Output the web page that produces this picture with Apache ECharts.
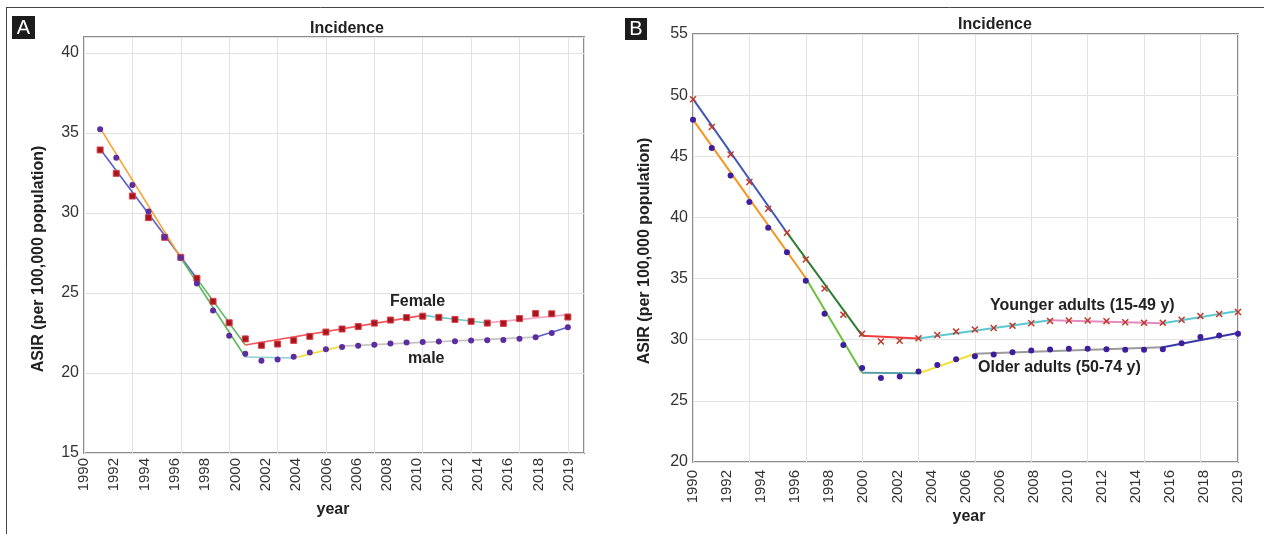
<!DOCTYPE html>
<html><head><meta charset="utf-8">
<script src="https://cdn.jsdelivr.net/npm/echarts@6/dist/echarts.min.js"></script>
<style>html,body{margin:0;padding:0;background:#fff}#c{width:1264px;height:534px}</style>
</head><body><div id="c"></div>
<script>
// ---------- data ----------
const years = [1990,1991,1992,1993,1994,1995,1996,1997,1998,1999,2000,2001,2002,2003,2004,2005,2006,2007,2008,2009,2010,2011,2012,2013,2014,2015,2016,2017,2018,2019];
const tickLabelsA = ['1990','1992','1994','1996','1998','2000','2002','2004','2006','2006','2008','2010','2012','2014','2016','2018','2019'];
const tickLabelsB = ['1990','1992','1994','1996','1998','2000','2002','2004','2006','2006','2008','2010','2012','2014','2016','2018','2019'];

// Panel A: observed ASIR
const femaleA = [33.94,32.48,31.06,29.71,28.48,27.23,25.92,24.48,23.14,22.13,21.73,21.81,22.04,22.29,22.56,22.75,22.90,23.12,23.31,23.46,23.55,23.48,23.35,23.23,23.12,23.10,23.40,23.72,23.70,23.50];
const maleA   = [35.23,33.46,31.75,30.10,28.50,27.20,25.60,23.90,22.33,21.20,20.77,20.85,21.02,21.28,21.48,21.63,21.71,21.77,21.84,21.90,21.93,21.97,21.99,22.03,22.05,22.07,22.14,22.24,22.50,22.86];
// Panel A: joinpoint fits
const femaleFitYearsA  = [1990,1996,1999,2010,2014,2019];
const femaleFitValuesA = [34.00,25.90,21.75,23.60,23.13,23.65];
const maleFitYearsA    = [1990,1995,1999,2002,2005,2017,2019];
const maleFitValuesA   = [35.30,27.20,21.00,20.94,21.68,22.24,22.86];

// Panel B: observed ASIR
const youngerB = [49.67,47.40,45.14,42.90,40.71,38.75,36.56,34.19,32.05,30.49,29.86,29.92,30.11,30.38,30.68,30.84,30.96,31.15,31.35,31.54,31.57,31.57,31.52,31.43,31.38,31.38,31.63,31.93,32.10,32.27];
const olderB   = [47.98,45.68,43.42,41.26,39.16,37.16,34.83,32.13,29.56,27.68,26.86,26.99,27.40,27.93,28.40,28.65,28.79,28.97,29.12,29.20,29.26,29.26,29.23,29.18,29.18,29.23,29.72,30.22,30.34,30.49];
// Panel B: joinpoint fits
const youngerFitYearsB  = [1990,1995,1999,2002,2009,2015,2019];
const youngerFitValuesB = [49.70,38.75,30.33,30.10,31.60,31.35,32.35];
const olderFitYearsB    = [1990,1996,1999,2002,2005,2015,2019];
const olderFitValuesB   = [48.00,35.05,27.30,27.25,28.85,29.38,30.55];

// ---------- styles ----------
const femaleSegColors  = ['#5b61c9','#5cb85c','#f2545b','#66cccc','#f4a6c8'];
const maleSegColors    = ['#f9a12e','#5cb85c','#8ecfd4','#f2de3a','#c4c4c4','#5b61c9'];
const youngerSegColors = ['#4156b8','#2e7d32','#f03c3c','#5bc8d0','#e58ac0','#5bc8d0'];
const olderSegColors   = ['#f7941d','#6dbf3f','#5aa0a8','#f2e033','#9a9a9a','#3838a8'];
const FONT = 'Liberation Sans, Arial, sans-serif';
const XMARK = 'path://M0,1.5L1.5,0L5,3.5L8.5,0L10,1.5L6.5,5L10,8.5L8.5,10L5,6.5L1.5,10L0,8.5L3.5,5Z';

function segSeries(fitYears, fitValues, colors, xi, yi, width) {
  const out = [];
  for (let i = 0; i < fitYears.length - 1; i++) {
    out.push({
      type: 'line', xAxisIndex: xi, yAxisIndex: yi, symbol: 'none', silent: true, z: 3,
      lineStyle: {color: colors[i], width: width},
      data: [[fitYears[i], fitValues[i]], [fitYears[i+1], fitValues[i+1]]]
    });
  }
  return out;
}
function pts(vals, xi, yi, symbol, size, color, border) {
  return {
    type: 'scatter', xAxisIndex: xi, yAxisIndex: yi, symbol: symbol, symbolSize: size, z: 5, silent: true,
    itemStyle: {color: color, borderColor: border || color, borderWidth: border ? 1 : 0, opacity: 1},
    data: years.map((y, i) => [y, vals[i]])
  };
}

const hiddenAxis = {show: false};
function dataX(grid, min, max) {
  return {type: 'value', gridIndex: grid, min: min, max: max, show: false};
}
function gridX(grid, max) {
  return {type: 'value', gridIndex: grid, min: 0, max: max, interval: 3, position: 'bottom',
    axisLine: {show: false}, axisTick: {show: false}, axisLabel: {show: false},
    splitLine: {show: true, lineStyle: {color: '#e2e2e2', width: 1}}};
}
function labelX(grid, max, labels, margin) {
  return {type: 'value', gridIndex: grid, min: 0, max: max, interval: 1, position: 'bottom',
    axisLine: {show: false}, axisTick: {show: false}, splitLine: {show: false},
    axisLabel: {show: true, rotate: 90, margin: margin, fontSize: 15, fontFamily: FONT, color: '#333',
      formatter: v => (Number.isInteger(v) && labels[v] !== undefined) ? labels[v] : ''}};
}
function yAx(grid, min, max) {
  return {type: 'value', gridIndex: grid, min: min, max: max, interval: 5,
    axisLine: {show: false}, axisTick: {show: false},
    splitLine: {show: true, lineStyle: {color: '#e2e2e2', width: 1}},
    axisLabel: {fontSize: 16, fontFamily: FONT, color: '#333', margin: 5, showMaxLabel: (max % 5 === 0)}};
}

function txt(x, y, s, size, opts) {
  return Object.assign({type: 'text', x: x, y: y, silent: true, z: 10,
    style: Object.assign({text: s, fontFamily: FONT, fontSize: size, fontWeight: 'bold', fill: '#222',
      textAlign: 'center', textVerticalAlign: 'middle'}, (opts && opts.style) || {})},
    (opts && opts.el) || {});
}

const option = {
  backgroundColor: '#fff',
  animation: false,
  grid: [
    {left: 84, top: 37, right: 680, bottom: 81, show: true, borderColor: '#8c8c8c', borderWidth: 2, backgroundColor: 'transparent'},
    {left: 693, top: 34, right: 26, bottom: 72, show: true, borderColor: '#8c8c8c', borderWidth: 2, backgroundColor: 'transparent'}
  ],
  xAxis: [
    dataX(0, 1989, 2020),      // 0 data A
    gridX(0, 31),              // 1 grid lines A
    labelX(0, 16.5, tickLabelsA, 5), // 2 labels A
    dataX(1, 1990, 2019),      // 3 data B
    gridX(1, 29),              // 4 grid lines B
    labelX(1, 16, tickLabelsB, 8)    // 5 labels B
  ],
  yAxis: [yAx(0, 15, 41), yAx(1, 20, 55)],
  series: [].concat(
    segSeries(femaleFitYearsA, femaleFitValuesA, femaleSegColors, 0, 0, 1.6),
    segSeries(maleFitYearsA, maleFitValuesA, maleSegColors, 0, 0, 1.6),
    [pts(femaleA, 0, 0, 'rect', 6, '#a8161c', '#d9434b'), pts(maleA, 0, 0, 'circle', 6, '#5b2d9e')],
    segSeries(youngerFitYearsB, youngerFitValuesB, youngerSegColors, 3, 1, 2),
    segSeries(olderFitYearsB, olderFitValuesB, olderSegColors, 3, 1, 2),
    [pts(youngerB, 3, 1, XMARK, 7, '#c0392b'), pts(olderB, 3, 1, 'circle', 6, '#3d1f9e')]
  ),
  graphic: [
    // frame
    {type: 'line', silent: true, shape: {x1: 6, y1: 7.5, x2: 1264, y2: 7.5}, style: {stroke: '#444', lineWidth: 1}},
    {type: 'line', silent: true, shape: {x1: 6.5, y1: 7, x2: 6.5, y2: 534}, style: {stroke: '#444', lineWidth: 1}},
    // panel letters
    {type: 'rect', silent: true, shape: {x: 12, y: 16, width: 23, height: 23}, style: {fill: '#1c1c1c'}},
    txt(23.5, 28, 'A', 20, {style: {fontWeight: 'normal', fill: '#fff'}}),
    {type: 'rect', silent: true, shape: {x: 625, y: 18, width: 22, height: 22}, style: {fill: '#1c1c1c'}},
    txt(636, 29.5, 'B', 20, {style: {fontWeight: 'normal', fill: '#fff'}}),
    // titles
    txt(347, 29, 'Incidence', 16),
    txt(995, 25, 'Incidence', 16),
    // axis names
    txt(39, 259, 'ASIR (per 100,000 population)', 16, {el: {rotation: Math.PI / 2}}),
    txt(645, 251, 'ASIR (per 100,000 population)', 16, {el: {rotation: Math.PI / 2}}),
    txt(333, 510, 'year', 16),
    txt(969, 517, 'year', 16),
    // annotations
    txt(390, 302, 'Female', 16, {style: {textAlign: 'left'}}),
    txt(408, 359, 'male', 16, {style: {textAlign: 'left'}}),
    txt(990, 306, 'Younger adults (15-49 y)', 16, {style: {textAlign: 'left'}}),
    txt(978, 368, 'Older adults (50-74 y)', 16, {style: {textAlign: 'left'}})
  ]
};
const chart = echarts.init(document.getElementById('c'), null, {renderer: 'canvas'});
chart.setOption(option);
</script>
</body></html>
